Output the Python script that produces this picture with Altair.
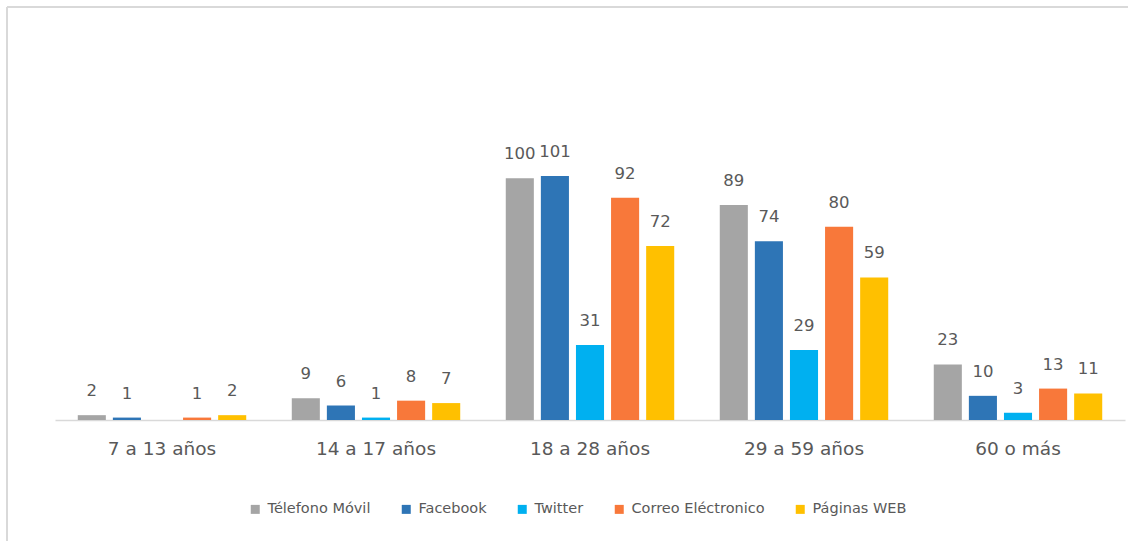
import altair as alt
import pandas as pd

groups = ["7 a 13 años", "14 a 17 años", "18 a 28 años", "29 a 59 años", "60 o más"]
series = ["Télefono Móvil", "Facebook", "Twitter", "Correo Eléctronico", "Páginas WEB"]
colors = ["#A5A5A5", "#2E75B6", "#00B0F0", "#F8783A", "#FFC000"]

telefono = [2, 9, 100, 89, 23]
facebook = [1, 6, 101, 74, 10]
twitter = [None, 1, 31, 29, 3]
correo = [1, 8, 92, 80, 13]
paginas = [2, 7, 72, 59, 11]

rows = []
for s, vals in zip(series, [telefono, facebook, twitter, correo, paginas]):
    for g, v in zip(groups, vals):
        if v is not None:
            rows.append({"grupo": g, "serie": s, "valor": v})
df = pd.DataFrame(rows)

FONT = "DejaVu Sans"
TXT = "#595959"
W, H = 1070, 290

x = alt.X("grupo:N", sort=groups, title=None,
          scale=alt.Scale(paddingInner=0.18, paddingOuter=0.09),
          axis=alt.Axis(labelFontSize=18.5, labelColor=TXT, labelFont=FONT, labelAngle=0,
                        ticks=False, domainColor="#D9D9D9", domainWidth=1.5, labelPadding=19))
xo = alt.XOffset("serie:N", sort=series, scale=alt.Scale(paddingInner=0.2, paddingOuter=0.1))
y = alt.Y("valor:Q", scale=alt.Scale(domain=[0, 120]), axis=None)

bars = alt.Chart(df).mark_bar().encode(
    x=x, xOffset=xo, y=y,
    color=alt.Color("serie:N", sort=series,
                    scale=alt.Scale(domain=series, range=colors),
                    legend=alt.Legend(title=None, orient="none", legendX=193, legendY=372,
                                      direction="horizontal", symbolType="square",
                                      symbolSize=81, symbolStrokeWidth=0,
                                      labelFontSize=14.5, labelColor=TXT, labelFont=FONT,
                                      columnPadding=28, labelOffset=5)),
)

labels = alt.Chart(df).mark_text(baseline="alphabetic", dy=-19, fontSize=16.5, color=TXT, font=FONT).encode(
    x=x, xOffset=xo, y=y, text=alt.Text("valor:Q")
)

border_left = alt.Chart(pd.DataFrame({"a": [0]})).mark_rule(color="#D9D9D9", strokeWidth=2).encode(
    x=alt.value(-48), y=alt.value(-123), y2=alt.value(H + 125)
)
border_top = alt.Chart(pd.DataFrame({"a": [0]})).mark_rule(color="#D9D9D9", strokeWidth=2).encode(
    x=alt.value(-48), x2=alt.value(W + 10), y=alt.value(-123)
)

chart = alt.layer(border_left, border_top, bars, labels).properties(
    width=W, height=H,
    autosize=alt.AutoSizeParams(type="none"),
    padding={"left": 55, "top": 130, "right": 3, "bottom": 121},
    background="white",
).configure_view(stroke=None)

chart.save("out.html", embed_options={"renderer": "svg", "actions": False})
